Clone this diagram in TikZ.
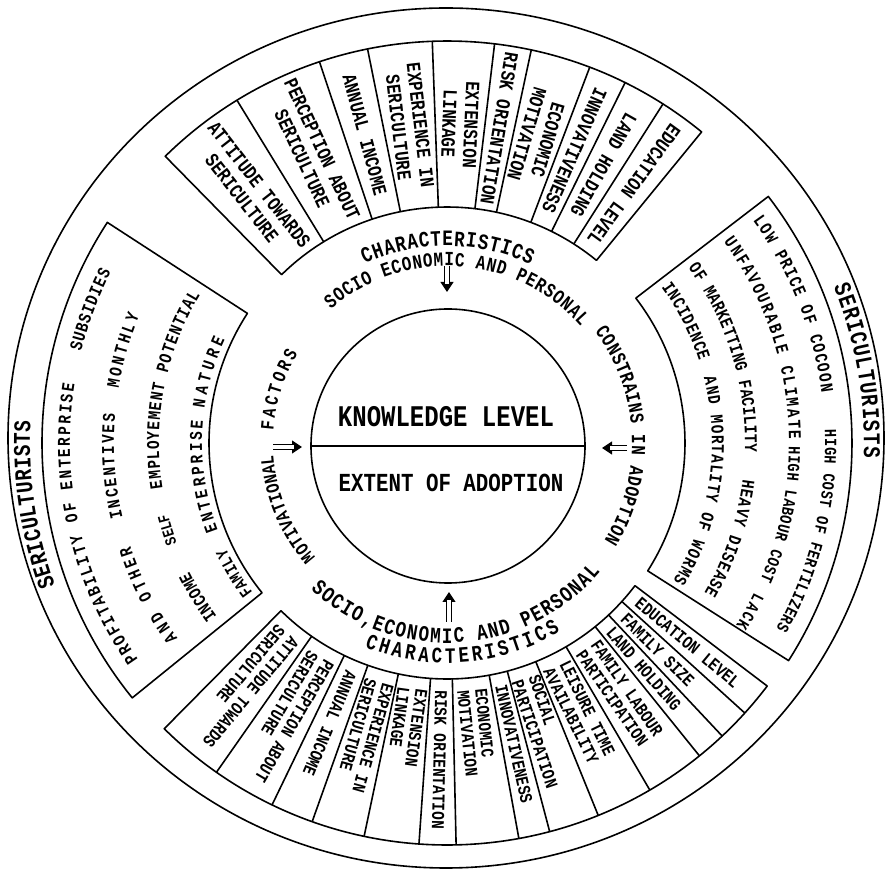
\documentclass[tikz,border=0pt]{standalone}
\usepackage{fontspec}
\newfontfamily\hand[FakeStretch=0.8]{Liberation Mono}
\usetikzlibrary{decorations.text,arrows.meta}
% text along an arc, stretched to fill it: radius, start angle, end angle, font size, text
\newcommand{\arctext}[5]{%
  \path[decorate,decoration={text along path,text align=fit to path,
    text={|\hand\bfseries\fontsize{#4}{#4}\selectfont|#5}}]
    (#2:#1) arc[start angle=#2,end angle=#3,radius=#1];}
% text centred on an angle, clockwise arc: radius, centre angle, font size, text
\newcommand{\midtext}[4]{%
  \path[decorate,decoration={text along path,text align=center,
    text={|\hand\bfseries\fontsize{#3}{#3}\selectfont|#4}}]
    ({#2+30}:#1) arc[start angle={#2+30},end angle={#2-30},radius=#1];}
% annular box: start angle, end angle, inner radius, outer radius
\newcommand{\sectorbox}[4]{%
  \draw (#1:#3) arc[start angle=#1,end angle=#2,radius=#3] -- (#2:#4)
    arc[start angle=#2,end angle=#1,radius=#4] -- cycle;}
\begin{document}
\begin{tikzpicture}[x=1pt,y=1pt,line width=1.6pt,line join=round,
  celltxt/.style={font=\hand\bfseries\fontsize{20}{22}\selectfont,align=center,inner sep=0pt},
  botcell/.style={font=\hand\bfseries\fontsize{18}{18}\selectfont,inner sep=0pt,align=left,anchor=west},
  coretxt/.style={font=\hand\bfseries\fontsize{#1}{#1}\selectfont,inner sep=0pt},
  tipline/.style={line width=1.2pt,-{Triangle[width=13pt,length=10pt]}},
  dblline/.style={double,double distance=4.5pt,line width=1.2pt,shorten >=8pt}]
\useasboundingbox (0,0) rectangle (889,873);
\begin{scope}[shift={(447,430)}]
% outer ring
\draw (-1,5) ellipse[x radius=438,y radius=430];
% four boxes
\sectorbox{50.7}{134.5}{236}{402}
\sectorbox{225.3}{322.8}{236}{402}
\sectorbox{147}{219}{238}{405}
\sectorbox{-32.5}{37.5}{238}{405}
% dividers of the top box
\foreach \a in {121.5,108.5,101.4,92.1,83.2,77.9,69.2,63.7,57.5}
  \draw (\a:236) -- (\a:402);
% dividers of the bottom box
\foreach \a in {235,244.2,250.4,258.1,266,271.3,280.3,284.8,292.1,300.3,308.9,313.2,317.8}
  \draw (\a:236) -- (\a:402);
% centre circle
\node[circle,draw,minimum size=274pt,inner sep=0pt] (core) at (1,-3) {};
\draw (core.west) -- (core.east);
\node[coretxt=30] (kl) at (-1,26) {KNOWLEDGE LEVEL};
\node[coretxt=26] (ea) at (4,-40) {EXTENT OF ADOPTION};
% arrows towards the centre
\coordinate (ta1) at (0,177);   \coordinate (ta2) at (0,151);
\coordinate (ba1) at (2,-179);  \coordinate (ba2) at (2,-149);
\coordinate (la1) at (-174,-4); \coordinate (la2) at (-145,-4);
\coordinate (ra1) at (180,-5);  \coordinate (ra2) at (155,-5);
\foreach \p/\q in {ta1/ta2,ba1/ba2,la1/la2,ra1/ra2}{
  \draw[tipline] (\p) -- (\q);
  \draw[dblline] (\p) -- (\q);}
% top box cells
\node[celltxt,rotate=-52] (t1) at (128:319) {ATTITUDE TOWARDS\\SERICULTURE};
\node[celltxt,rotate=-65] (t2) at (115:319) {PERCEPTION ABOUT\\SERICULTURE};
\node[celltxt,rotate=-75.05] (t3) at (104.95:319) {ANNUAL INCOME};
\node[celltxt,rotate=-83.25] (t4) at (96.75:319) {EXPERIENCE IN\\SERICULTURE};
\node[celltxt,rotate=-92.35] (t5) at (87.65:319) {EXTENSION\\LINKAGE};
\node[celltxt,rotate=-99.45] (t6) at (80.55:319) {RISK ORIENTATION};
\node[celltxt,rotate=-106.45] (t7) at (73.55:319) {ECONOMIC\\MOTIVATION};
\node[celltxt,rotate=-113.55] (t8) at (66.45:319) {INNOVATIVENESS};
\node[celltxt,rotate=-119.4] (t9) at (60.6:319) {LAND HOLDING};
\node[celltxt,rotate=-125.9] (t10) at (54.1:319) {EDUCATION LEVEL};
% bottom box cells
\node[botcell,rotate=230.15] (b1) at (230.15:247) {ATTITUDE TOWARDS\\SERICULTURE};
\node[botcell,rotate=239.6] (b2) at (239.6:247) {PERCEPTION ABOUT\\SERICULTURE};
\node[botcell,rotate=247.3] (b3) at (247.3:247) {ANNUAL INCOME};
\node[botcell,rotate=254.25] (b4) at (254.25:247) {EXPERIENCE IN\\SERICULTURE};
\node[botcell,rotate=262.05] (b5) at (262.05:247) {EXTENSION\\LINKAGE};
\node[botcell,rotate=268.65] (b6) at (268.65:247) {RISK ORIENTATION};
\node[botcell,rotate=275.8] (b7) at (275.8:247) {ECONOMIC\\MOTIVATION};
\node[botcell,rotate=282.55] (b8) at (282.55:247) {INNOVATIVENESS};
\node[botcell,rotate=288.45] (b9) at (288.45:247) {SOCIAL\\PARTICIPATION};
\node[botcell,rotate=296.2] (b10) at (296.2:247) {LEISURE TIME\\AVAILABILITY};
\node[botcell,rotate=304.6] (b11) at (304.6:247) {FAMILY LABOUR\\PARTICIPATION};
\node[botcell,rotate=311.05] (b12) at (311.05:247) {LAND HOLDING};
\node[botcell,rotate=315.5] (b13) at (315.5:247) {FAMILY SIZE};
\node[botcell,rotate=320.3] (b14) at (320.3:247) {EDUCATION LEVEL};
% curved headings around the centre
\arctext{197}{114.7}{64.9}{22}{CHARACTERISTICS}
\arctext{177}{131}{41}{20}{SOCIO ECONOMIC AND PERSONAL}
\arctext{200}{227}{320}{22}{SOCIO,ECONOMIC AND PERSONAL}
\arctext{220}{248}{301}{22}{CHARACTERISTICS}
\arctext{174}{221}{184}{19}{MOTIVATIONAL}
\arctext{174}{176}{149}{19}{FACTORS}
\arctext{185}{37}{-31.8}{20}{CONSTRAINS IN ADOPTION}
% outer ring labels
\arctext{417}{200}{177}{24}{SERICULTURISTS}
\arctext{417}{22}{-2}{24}{SERICULTURISTS}
% left box: motivational factors
\arctext{377}{215}{171}{18}{PROFITABILITY OF ENTERPRISE}
\arctext{377}{166}{153}{18}{SUBSIDIES}
\arctext{333}{216}{198}{18}{AND OTHER}
\arctext{333}{193}{175}{18}{INCENTIVES}
\arctext{333}{170.5}{157.5}{18}{MONTHLY}
\arctext{288}{217}{206.5}{18}{INCOME}
\midtext{288}{197.3}{16}{SELF}
\arctext{288}{189}{149}{18}{EMPLOYEMENT POTENTIAL}
\arctext{245}{217.5}{205.5}{17}{FAMILY}
\arctext{245}{200.8}{174.7}{18}{ENTERPRISE}
\arctext{245}{171.8}{155}{18}{NATURE}
% right box: constraints
\arctext{378}{36}{7.6}{18}{LOW PRICE OF COCOON}
\arctext{378}{2}{-29.4}{17}{HIGH COST OF FERTILIZERS}
\arctext{342}{36}{0.6}{18}{UNFAVOURABLE CLIMATE}
\arctext{342}{-0.6}{-23.6}{17}{HIGH LABOUR COST}
\arctext{342}{-26}{-32.3}{17}{LACK}
\arctext{298}{36}{-1.7}{18}{OF MARKETTING FACILITY}
\arctext{298}{-7}{-30.3}{18}{HEAVY DISEASE}
\arctext{265}{36}{18}{18}{INCIDENCE}
\arctext{265}{14.2}{-31.4}{18}{AND MORTALITY OF WORMS}
\end{scope}
\end{tikzpicture}
\end{document}
